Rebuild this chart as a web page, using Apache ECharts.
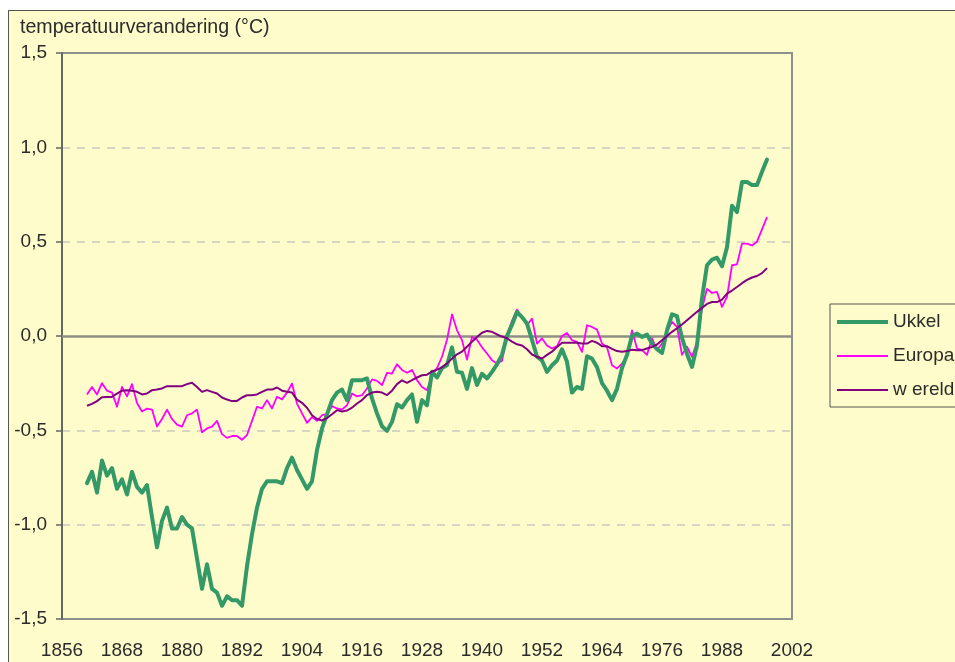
<!DOCTYPE html>
<html>
<head>
<meta charset="utf-8">
<script src="https://cdn.jsdelivr.net/npm/echarts@6/dist/echarts.min.js"></script>
<style>
    html, body { margin: 0; padding: 0; background: #fff; overflow: hidden; }
    #frame {
        position: absolute; left: 8px; top: 10px; width: 960px; height: 660px;
        background: #FFFCCB; border: 1.5px solid #555;
    }
    #chart { position: absolute; left: 0; top: 0; width: 955px; height: 662px; }
</style>
</head>
<body>
<div id="frame"></div>
<div id="chart"></div>
<script>
    // temperatuurverandering t.o.v. referentie, jaarwaarden vanaf 1861
    const FIRST_YEAR = 1861;

    const ukkel = [
        -0.78, -0.72, -0.83, -0.66, -0.74, -0.70, -0.81, -0.76, -0.84, -0.72,
        -0.80, -0.83, -0.79, -0.96, -1.12, -0.98, -0.91, -1.02, -1.02, -0.96,
        -1.00, -1.02, -1.18, -1.34, -1.21, -1.34, -1.36, -1.43, -1.38, -1.40,
        -1.40, -1.43, -1.22, -1.05, -0.91, -0.81, -0.77, -0.77, -0.77, -0.78,
        -0.70, -0.645, -0.71, -0.76, -0.81, -0.77, -0.605, -0.49, -0.415, -0.34,
        -0.30, -0.284, -0.34, -0.234, -0.234, -0.234, -0.225, -0.331, -0.41, -0.478,
        -0.503, -0.455, -0.362, -0.379, -0.34, -0.31, -0.455, -0.34, -0.367, -0.19,
        -0.22, -0.17, -0.155, -0.06, -0.19, -0.195, -0.28, -0.17, -0.26, -0.20,
        -0.225, -0.19, -0.15, -0.10, 0.00, 0.06, 0.127, 0.10, 0.066, -0.02,
        -0.11, -0.13, -0.19, -0.155, -0.13, -0.07, -0.137, -0.30, -0.27, -0.28,
        -0.107, -0.12, -0.165, -0.25, -0.29, -0.34, -0.28, -0.17, -0.10, 0.00,
        0.013, -0.005, 0.008, -0.04, -0.07, -0.09, 0.03, 0.115, 0.105, -0.01,
        -0.095, -0.164, -0.05, 0.20, 0.375, 0.405, 0.415, 0.37, 0.47, 0.69,
        0.657, 0.816, 0.816, 0.80, 0.80, 0.87, 0.935
    ];

    const europa = [
        -0.31, -0.27, -0.31, -0.25, -0.29, -0.30, -0.375, -0.27, -0.32, -0.255,
        -0.355, -0.40, -0.385, -0.39, -0.48, -0.44, -0.39, -0.44, -0.47, -0.48,
        -0.42, -0.41, -0.39, -0.51, -0.49, -0.48, -0.45, -0.52, -0.54, -0.53,
        -0.53, -0.55, -0.525, -0.45, -0.375, -0.384, -0.34, -0.384, -0.322, -0.336,
        -0.30, -0.252, -0.358, -0.41, -0.46, -0.43, -0.45, -0.42, -0.414, -0.372,
        -0.384, -0.39, -0.367, -0.305, -0.32, -0.314, -0.278, -0.23, -0.238, -0.26,
        -0.195, -0.199, -0.15, -0.18, -0.195, -0.18, -0.234, -0.27, -0.287, -0.21,
        -0.17, -0.11, -0.02, 0.115, 0.03, -0.022, -0.125, -0.005, -0.02, -0.06,
        -0.093, -0.128, -0.146, -0.132, 0.004, 0.08, 0.14, 0.10, 0.057, 0.092,
        -0.04, -0.013, -0.05, -0.066, -0.055, 0.00, 0.016, -0.022, -0.031, -0.084,
        0.057, 0.048, 0.034, -0.04, -0.06, -0.155, -0.172, -0.146, -0.11, 0.03,
        -0.066, -0.075, -0.10, -0.013, -0.075, -0.04, 0.022, 0.075, 0.048, -0.10,
        -0.057, -0.11, -0.031, 0.145, 0.25, 0.228, 0.234, 0.154, 0.207, 0.375,
        0.38, 0.49, 0.49, 0.48, 0.50, 0.565, 0.63
    ];

    const wereld = [
        -0.37, -0.36, -0.345, -0.325, -0.323, -0.323, -0.305, -0.29, -0.287, -0.29,
        -0.296, -0.31, -0.305, -0.287, -0.284, -0.278, -0.266, -0.266, -0.266, -0.266,
        -0.255, -0.248, -0.27, -0.296, -0.287, -0.296, -0.305, -0.326, -0.337, -0.345,
        -0.344, -0.326, -0.314, -0.314, -0.31, -0.296, -0.284, -0.284, -0.273, -0.29,
        -0.296, -0.30, -0.337, -0.354, -0.38, -0.42, -0.44, -0.448, -0.435, -0.415,
        -0.393, -0.40, -0.395, -0.38, -0.358, -0.34, -0.313, -0.30, -0.296, -0.30,
        -0.313, -0.29, -0.255, -0.235, -0.248, -0.234, -0.22, -0.208, -0.205, -0.188,
        -0.178, -0.166, -0.145, -0.12, -0.097, -0.083, -0.057, -0.03, -0.005, 0.017,
        0.027, 0.022, 0.008, -0.003, -0.012, -0.03, -0.044, -0.05, -0.07, -0.098,
        -0.111, -0.119, -0.10, -0.083, -0.058, -0.036, -0.036, -0.036, -0.036, -0.04,
        -0.04, -0.026, -0.036, -0.054, -0.054, -0.068, -0.08, -0.084, -0.08, -0.073,
        -0.076, -0.075, -0.066, -0.058, -0.045, -0.022, 0.00, 0.022, 0.041, 0.061,
        0.083, 0.106, 0.128, 0.149, 0.17, 0.18, 0.18, 0.193, 0.225, 0.241,
        0.26, 0.28, 0.297, 0.31, 0.318, 0.333, 0.36
    ];

    const years = ukkel.map((_, i) => FIRST_YEAR + i);

    // labels van de x-as
    const yearTicks = [1856, 1868, 1880, 1892, 1904, 1916, 1928, 1940, 1952, 1964, 1976, 1988, 2002];

    const seriesNames = ['Ukkel', 'Europa', 'w ereld'];

    const FONT = '"Liberation Sans", Arial, sans-serif';
    const TEXT = '#2b2b2b';

    // legendesymbool: een streep in een vak van 51x20, dikte zoals de lijn
    const ICON_THICK = 'path://M0,0L0.01,0ZM0,8L51,8L51,12L0,12ZM0,20L0.01,20Z';
    const ICON_THIN = 'path://M0,0L0.01,0ZM0,9L51,9L51,11L0,11ZM0,20L0.01,20Z';

    function pairs(values) {
        return years.map((y, i) => [y, values[i]]);
    }

    const chart = echarts.init(document.getElementById('chart'));

    chart.setOption({
        animation: false,
        backgroundColor: 'transparent',
        textStyle: { fontFamily: FONT },
        title: {
            text: 'temperatuurverandering (°C)',
            left: 20,
            top: 18,
            padding: 0,
            textStyle: { fontFamily: FONT, fontSize: 19.6, fontWeight: 'normal', color: TEXT }
        },
        grid: {
            left: 62,
            right: 163,
            top: 53,
            bottom: 43,
            show: true,
            backgroundColor: '#FFFCCB',
            borderColor: '#8f8f8f',
            borderWidth: 2
        },
        legend: {
            orient: 'vertical',
            left: 830,
            top: 304,
            padding: [8, 14, 7, 7],
            itemGap: 14,
            itemWidth: 51,
            itemHeight: 20,
            backgroundColor: '#FFFCCB',
            borderColor: '#555',
            borderWidth: 1,
            borderRadius: 0,
            data: [
                { name: seriesNames[0], icon: ICON_THICK },
                { name: seriesNames[1], icon: ICON_THIN },
                { name: seriesNames[2], icon: ICON_THIN }
            ],
            textStyle: { fontFamily: FONT, fontSize: 19, color: TEXT }
        },
        xAxis: {
            type: 'value',
            min: 1856,
            max: 2002,
            axisLine: { show: false },
            axisTick: { show: false },
            splitLine: { show: false },
            axisLabel: {
                customValues: yearTicks,
                margin: 22,
                fontFamily: FONT,
                fontSize: 19,
                color: TEXT,
                formatter: (v) => String(v)
            }
        },
        yAxis: {
            type: 'value',
            min: -1.5,
            max: 1.5,
            interval: 0.5,
            axisLine: { show: true, lineStyle: { color: '#666', width: 2 } },
            axisTick: { show: true, inside: false, length: 6, lineStyle: { color: '#666', width: 1.5 } },
            axisLabel: {
                margin: 15,
                fontFamily: FONT,
                fontSize: 19,
                color: TEXT,
                formatter: (v) => v.toFixed(1).replace('.', ',')
            },
            splitLine: {
                show: true,
                lineStyle: {
                    color: ['transparent', '#c9c9c0', '#c9c9c0', 'transparent', '#c9c9c0', '#c9c9c0', 'transparent'],
                    type: [8, 7],
                    width: 1.5
                }
            }
        },
        series: [
            {
                name: seriesNames[0],
                type: 'line',
                data: pairs(ukkel),
                symbol: 'none',
                z: 4,
                lineStyle: { color: '#339966', width: 4, join: 'round', cap: 'round' },
                itemStyle: { color: '#339966' },
                markLine: {
                    silent: true,
                    symbol: 'none',
                    z: 1,
                    label: { show: false },
                    lineStyle: { color: '#8f8f86', width: 2.5, type: 'solid' },
                    data: [{ yAxis: 0 }]
                }
            },
            {
                name: seriesNames[1],
                type: 'line',
                data: pairs(europa),
                symbol: 'none',
                z: 3,
                lineStyle: { color: '#FF00FF', width: 1.8, join: 'round' },
                itemStyle: { color: '#FF00FF' }
            },
            {
                name: seriesNames[2],
                type: 'line',
                data: pairs(wereld),
                symbol: 'none',
                z: 5,
                lineStyle: { color: '#800080', width: 2, join: 'round' },
                itemStyle: { color: '#800080' }
            }
        ]
    });
</script>
</body>
</html>
